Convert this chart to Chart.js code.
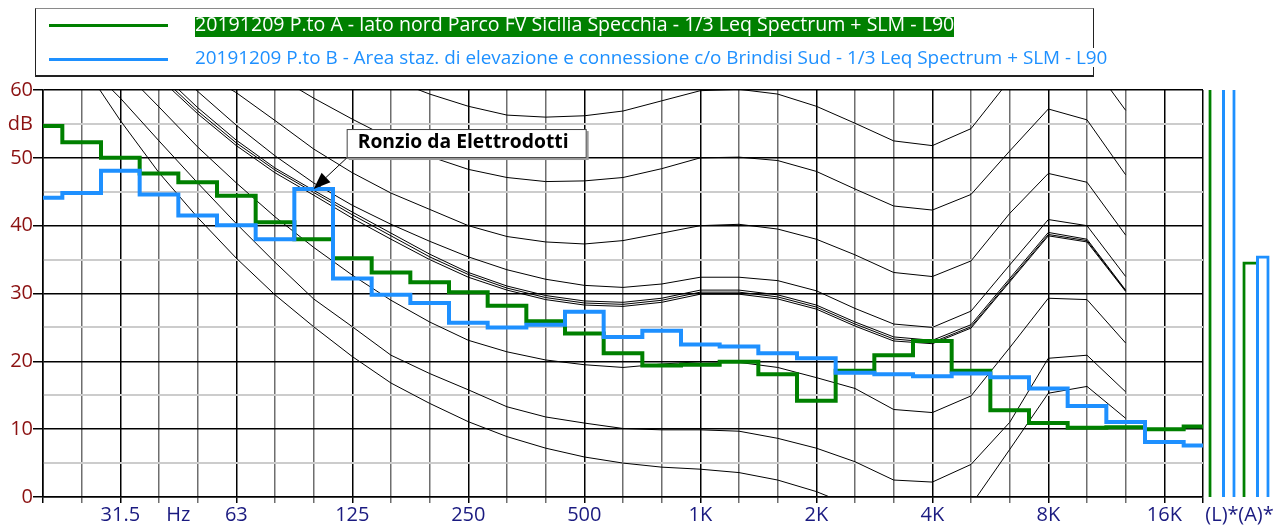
<!DOCTYPE html>
<html><head><meta charset="utf-8">
<script src="https://cdn.jsdelivr.net/npm/chart.js@4.4.1/dist/chart.umd.min.js"></script>
<style>
html,body{margin:0;padding:0;background:#fff;}
#wrap{position:relative;width:1287px;height:528px;overflow:hidden;font-family:'Open Sans',sans-serif;}
#main{position:absolute;left:0;top:0;}
#bars{position:absolute;left:1190px;top:0;}
#legendBox{position:absolute;left:35px;top:8px;width:1057px;height:66px;border:1px solid #222;border-top-color:#8a8a8a;border-bottom-width:2px;}
.swatch{position:absolute;left:49px;width:119px;height:3px;}
.ltext{position:absolute;left:195px;white-space:nowrap;}
</style></head><body>
<div id="wrap">
<canvas id="main" width="1287" height="528"></canvas>
<canvas id="bars" width="97" height="528"></canvas>
<div id="legendBox"></div>
<div class="swatch" style="top:24px;background:#008000"></div>
<div id="gbg" style="position:absolute;left:195px;top:17px;height:20px;background:#008000"></div>
<span id="gtext" class="ltext" style="color:#fff"></span>
<div class="swatch" style="top:58px;background:#1E90FF"></div>
<span id="btext" class="ltext" style="color:#1E90FF;background:#fff"></span>
</div>
<script>
// ---------- DATA ----------
const bands = ['20','25','31.5','40','50','63','80','100','125','160','200','250','315','400','500','630','800','1K','1.25K','1.6K','2K','2.5K','3.15K','4K','5K','6.3K','8K','10K','12.5K','16K','20K'];
const axisLabels = {2:'31.5', 3.5:'Hz', 5:'63', 8:'125', 11:'250', 14:'500', 17:'1K', 20:'2K', 23:'4K', 26:'8K', 29:'16K'};
const nameA = '20191209 P.to A - lato nord Parco FV Sicilia Specchia - 1/3 Leq Spectrum + SLM - L90';
const nameB = '20191209 P.to B - Area staz. di elevazione e connessione c/o Brindisi Sud - 1/3 Leq Spectrum + SLM - L90';
const seriesA = [54.7,52.3,50.0,47.7,46.4,44.4,40.5,38.0,35.2,33.1,31.65,30.2,28.2,25.9,24.1,21.2,19.4,19.5,19.95,18.1,14.2,18.6,20.9,23.0,18.6,12.8,10.9,10.2,10.3,10.0,10.4];
const seriesB = [44.1,44.8,48.1,44.6,41.5,40.05,38.0,45.4,32.2,29.8,28.6,25.7,25.0,25.4,27.3,23.6,24.5,22.5,22.2,21.2,20.45,18.3,18.1,17.8,18.2,17.65,16.0,13.4,11.05,8.1,7.6];
const totalLabels = ['(L)*','(A)*'];
const totalsA = [62.0, 34.7];
const totalsB = [62.5, 35.6];
// background curves (20 Hz .. 12.5 kHz)
const curve60 = [97,92,87,82,77.5,73.5,70,66.8,64.0,61.6,59.4,57.6,56.3,56.0,56.2,56.9,58.4,59.9,60.1,59.4,57.6,55.1,52.5,51.8,54.3,61.5,66.5,64.8,57.0];
const curve50 = [88,83,78.5,74,70,66,62.2,58.8,55.7,52.8,50.2,48.3,47.1,46.5,46.6,47.1,48.4,50.0,50.1,49.6,48.0,45.4,42.9,42.3,44.6,51.0,57.2,55.6,47.5];
const curve40 = [80,75.5,71,66.8,63,59.6,55.5,51.3,47.8,44.8,42.4,40.0,38.4,37.6,37.3,37.8,38.9,40.0,40.2,39.5,38.0,35.7,33.1,32.5,34.8,41.8,47.7,46.4,38.6];
const curve32 = [80,75,70,65,59.8,54.8,50.3,46.3,43.0,40.2,37.7,35.4,33.5,32.1,31.2,30.9,31.4,32.4,32.4,31.9,30.4,27.8,25.5,25.0,27.4,34.2,40.9,40.0,32.5];
const curve30a = [78,73,68,62.8,57.4,52.6,48.5,45.2,42.0,38.9,35.8,33.1,31.1,29.7,28.9,28.7,29.3,30.5,30.5,29.8,28.3,25.8,23.6,23.1,25.4,32.2,39.0,38.0,30.5];
const curve30b = [77.5,72.5,67.4,62.2,56.9,52.2,48.2,44.9,41.6,38.5,35.4,32.8,30.8,29.4,28.6,28.4,29.0,30.2,30.2,29.5,28.0,25.5,23.3,22.8,25.1,31.9,38.7,37.8,30.4];
const curve30c = [77,72,66.8,61.8,56.5,51.8,47.8,44.5,41.1,38.0,35.0,32.4,30.5,29.1,28.3,28.1,28.7,29.9,29.9,29.2,27.7,25.2,23.0,22.6,24.9,31.7,38.5,37.6,30.3];
const curve20 = [72,67.5,63.3,57.5,51.6,46.3,41.3,36.8,32.7,29.0,25.8,23.1,21.4,20.2,19.5,19.1,19.6,19.95,19.85,19.1,17.6,16.0,12.9,12.45,14.9,22.0,29.3,29.1,22.7];
const curve10 = [70,64.5,58.8,52.5,46.3,40.3,34.6,29.2,25.1,20.9,18.2,15.8,13.3,11.8,10.9,10.1,9.9,9.9,9.7,8.65,7.2,5.2,2.5,2.2,4.8,11.0,20.45,20.9,15.5];
const curve4 = [72,64,55.5,47.8,41.2,35.2,29.8,25.1,20.7,16.8,13.8,11.1,8.9,7.2,5.9,5.0,4.4,4.1,3.6,2.5,0.8,-1.5,-3.5,-3.8,-1.2,7.0,15.3,16.3,11.6];
const curves = [curve60,curve50,curve40,curve32,curve30a,curve30b,curve30c,curve20,curve10,curve4];
const noteText = 'Ronzio da Elettrodotti';
const noteBand = 7;

// ---------- STYLE ----------
const GREEN = '#008000', BLUE = '#1E90FF', NAVY = '#1a1a80', DARKRED = '#8B1111';
const FONT = "'Open Sans', sans-serif";
Chart.defaults.font.family = FONT;
Chart.defaults.animation = false;

function fitSize(text, weight, target, base) {
  const c = document.createElement('canvas').getContext('2d');
  c.font = weight + ' ' + base + 'px ' + FONT;
  return base * target / c.measureText(text).width;
}

// legend (HTML)
const gt = document.getElementById('gtext'), bt = document.getElementById('btext');
gt.textContent = nameA; bt.textContent = nameB;
const fsA = fitSize(nameA, 'normal', 760, 20);
const fsB = fitSize(nameB, 'normal', 913, 20);
gt.style.fontSize = fsA + 'px'; gt.style.lineHeight = fsA + 'px';
bt.style.fontSize = fsB + 'px'; bt.style.lineHeight = fsB + 'px';
gt.style.top = (31.5 - 0.888 * fsA) + 'px';
bt.style.top = (64.5 - 0.888 * fsB) + 'px';
document.getElementById('gbg').style.width = gt.getBoundingClientRect().width + 'px';

const pts = arr => arr.map((v, i) => ({x: i, y: v}));

const curveSets = curves.map(c => ({
  data: pts(c), borderColor: '#000', borderWidth: 1, pointRadius: 0, tension: 0, order: 2, clip: 0
}));

const notePlugin = {
  id: 'note',
  afterDatasetsDraw(chart) {
    const {ctx, scales: {x, y}} = chart;
    const tx = x.getPixelForValue(noteBand), ty = y.getPixelForValue(seriesB[noteBand]);
    const bx = tx + 33, by = ty - 60, bw = 240, bh = 29;
    ctx.save();
    const sx = bx, sy = by + bh;
    const ang = Math.atan2(ty - sy, tx - sx);
    const hl = 17, hw = 6.5;
    const baseX = tx - hl * Math.cos(ang), baseY = ty - hl * Math.sin(ang);
    ctx.strokeStyle = '#000'; ctx.lineWidth = 1;
    ctx.beginPath(); ctx.moveTo(sx, sy); ctx.lineTo(baseX, baseY); ctx.stroke();
    ctx.fillStyle = '#000';
    ctx.beginPath();
    ctx.moveTo(tx, ty);
    ctx.lineTo(baseX + hw * Math.sin(ang), baseY - hw * Math.cos(ang));
    ctx.lineTo(baseX - hw * Math.sin(ang), baseY + hw * Math.cos(ang));
    ctx.closePath(); ctx.fill();
    ctx.fillStyle = '#9a9a9a';
    ctx.fillRect(bx + 2, by + 2, bw, bh);
    ctx.fillStyle = '#fff';
    ctx.fillRect(bx, by, bw, bh);
    ctx.strokeStyle = '#444';
    ctx.strokeRect(bx + 0.5, by + 0.5, bw - 1, bh - 1);
    const fs = fitSize(noteText, 'bold', 211, 20);
    ctx.font = 'bold ' + fs + 'px ' + FONT;
    ctx.fillStyle = '#000'; ctx.textBaseline = 'alphabetic'; ctx.textAlign = 'left';
    ctx.fillText(noteText, bx + 11, by + 19);
    ctx.restore();
  }
};

new Chart(document.getElementById('main'), {
  type: 'line',
  data: {
    datasets: [
      {label: nameB, data: pts(seriesB), borderColor: BLUE, borderWidth: 4, pointRadius: 0, stepped: 'middle', order: 0, borderJoinStyle: 'miter'},
      {label: nameA, data: pts(seriesA), borderColor: GREEN, borderWidth: 4, pointRadius: 0, stepped: 'middle', order: 1, borderJoinStyle: 'miter'},
      ...curveSets
    ]
  },
  options: {
    responsive: false, devicePixelRatio: 1, animation: false,
    layout: {padding: {top: 90, right: 84, left: 0, bottom: 0}},
    plugins: {legend: {display: false}, tooltip: {enabled: false}},
    scales: {
      x: {
        type: 'linear', min: 0, max: bands.length - 1,
        afterBuildTicks: s => {
          const t = bands.map((b, i) => ({value: i}));
          t.push({value: 3.5});
          t.sort((a, b) => a.value - b.value);
          s.ticks = t;
        },
        afterFit: s => { s.height = 31; },
        ticks: {autoSkip: false, maxRotation: 0, padding: 0, color: NAVY, font: {size: 20},
          callback: v => axisLabels[v] !== undefined ? axisLabels[v] : ''},
        grid: {
          tickLength: 6,
          lineWidth: 1.5,
          color: c => { const v = c.tick.value; if (v === 3.5) return 'rgba(0,0,0,0)'; return (v % 3 === 2 || v === 0 || v === 30) ? '#000' : '#6e6e6e'; },
          tickColor: c => { const v = c.tick.value; if (v === 3.5) return 'rgba(0,0,0,0)'; return (v % 3 === 2 || v === 0 || v === 30) ? '#000' : '#6e6e6e'; }
        },
        border: {display: true, color: '#000', width: 1.5}
      },
      y: {
        min: 0, max: 60,
        afterFit: s => { s.width = 43; },
        ticks: {stepSize: 5, padding: 0, color: DARKRED, font: {size: 20},
          callback: v => v % 10 === 0 ? String(v) : (v === 55 ? 'dB' : '')},
        grid: {
          tickLength: 10,
          lineWidth: c => c.tick.value % 10 === 0 ? 1.5 : 2,
          color: c => c.tick.value % 10 === 0 ? '#000' : '#cccccc',
          tickColor: c => c.tick.value % 10 === 0 ? '#000' : 'rgba(0,0,0,0)'
        },
        border: {display: true, color: '#000', width: 1.5}
      }
    }
  },
  plugins: [notePlugin]
});

new Chart(document.getElementById('bars'), {
  type: 'bar',
  data: {
    labels: totalLabels,
    datasets: [
      {label: nameA, data: totalsA, borderColor: GREEN, backgroundColor: 'rgba(0,0,0,0)', borderWidth: {left: 3, top: 3, right: 0, bottom: 0}, borderSkipped: false, clip: 0},
      {label: nameB, data: totalsB, borderColor: BLUE, backgroundColor: 'rgba(0,0,0,0)', borderWidth: {left: 3, top: 3, right: 3, bottom: 0}, borderSkipped: false, clip: 0}
    ]
  },
  options: {
    responsive: false, devicePixelRatio: 1, animation: false,
    layout: {padding: {top: 90, right: 14, left: 15, bottom: 0}},
    plugins: {legend: {display: false}, tooltip: {enabled: false}},
    datasets: {bar: {barPercentage: 1, categoryPercentage: 0.8}},
    scales: {
      x: {
        afterFit: s => { s.height = 31; },
        ticks: {padding: 0, color: NAVY, font: {size: 20}, maxRotation: 0, autoSkip: false},
        grid: {drawOnChartArea: false, tickLength: 6, color: 'rgba(0,0,0,0)'},
        border: {display: false}
      },
      y: {display: false, min: 0, max: 60}
    }
  }
});
</script>
</body></html>
